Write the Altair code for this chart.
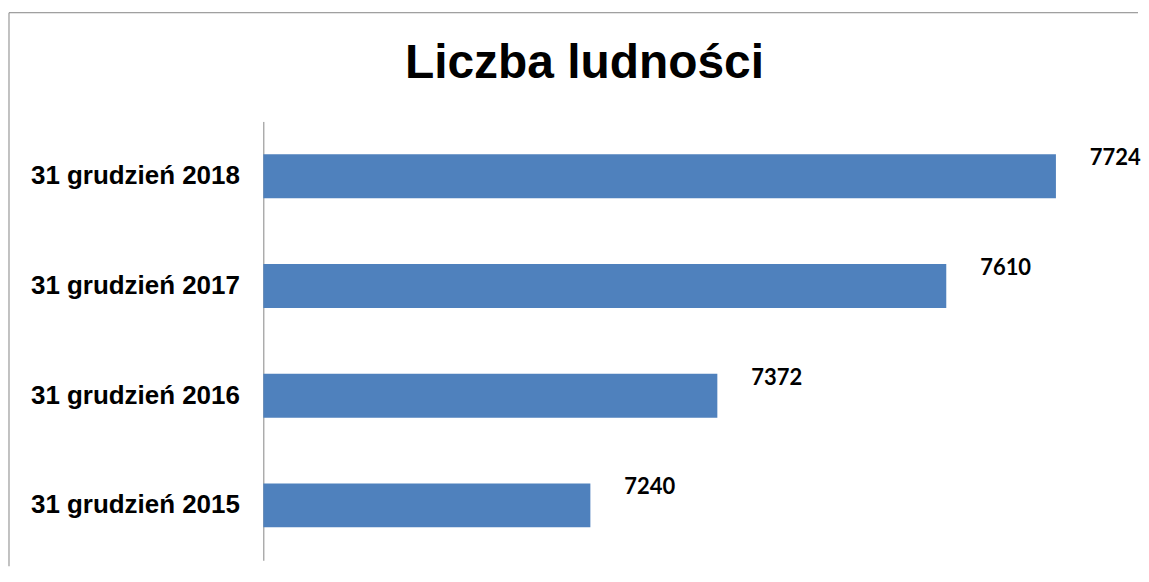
import altair as alt
import pandas as pd

categories = ["31 grudzień 2018", "31 grudzień 2017", "31 grudzień 2016", "31 grudzień 2015"]
values = [7724, 7610, 7372, 7240]
title_text = "Liczba ludności"

df = pd.DataFrame({"kategoria": categories, "wartosc": values})
frame_df = pd.DataFrame({"k": [0]})
title_df = pd.DataFrame({"t": [title_text]})

W = 868
H = 440
GRAY = "#868686"

y_enc = alt.Y(
    "kategoria:N",
    sort=categories,
    title=None,
    scale=alt.Scale(paddingInner=0.6, paddingOuter=0.3),
    axis=alt.Axis(
        domainColor=GRAY, domainWidth=1, ticks=False,
        labelFont="Liberation Sans", labelFontWeight="bold", labelFontSize=26,
        labelColor="black", labelPadding=24, labelLimit=400,
    ),
)
x_enc = alt.X("wartosc:Q", stack=None,
              scale=alt.Scale(domain=[6900, 7800], zero=False, nice=False), axis=None)

bars = alt.Chart(df).mark_bar(color="#4F81BD").encode(x=x_enc, y=y_enc)

labels = alt.Chart(df).mark_text(
    align="left", baseline="middle", dx=34, dy=-18,
    font="Lato", fontWeight="bold", fontSize=22, color="black",
).encode(x=x_enc, y=y_enc, text=alt.Text("wartosc:Q", format="d"))

border_top = alt.Chart(frame_df).mark_rule(color=GRAY, strokeWidth=1).encode(
    x=alt.value(-255), x2=alt.value(877), y=alt.value(-109)
)
border_left = alt.Chart(frame_df).mark_rule(color=GRAY, strokeWidth=1).encode(
    x=alt.value(-255), y=alt.value(-109), y2=alt.value(446)
)

title = alt.Chart(title_df).mark_text(
    align="center", baseline="alphabetic",
    font="Liberation Sans", fontSize=48, fontWeight="bold", color="black",
).encode(x=alt.value(322), y=alt.value(-44), text="t:N")

chart = alt.layer(border_top, border_left, bars, labels, title).properties(
    width=W,
    height=H,
    padding={"top": 3, "left": 0, "right": 0, "bottom": 0},
    background="white",
).configure_view(stroke=None)

chart.save("out.html", embed_options={"renderer": "svg", "actions": False})
